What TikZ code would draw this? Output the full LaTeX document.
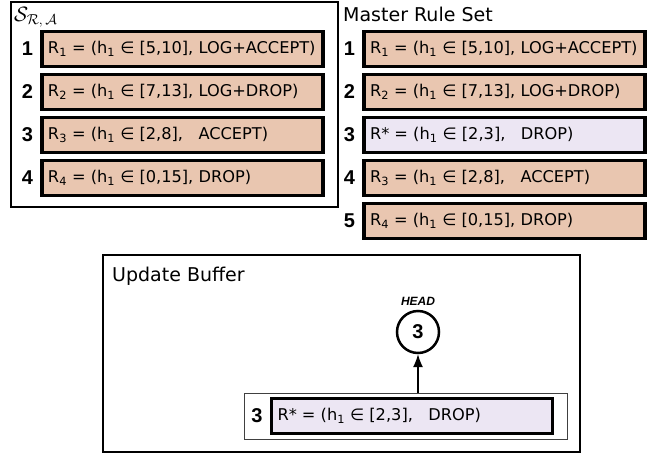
\documentclass[tikz,border=0pt]{standalone}
\usepackage{fontspec}
\setmainfont{DejaVu Sans}
\newfontfamily\numfont{Liberation Sans}
\usepackage{tikz}
\usetikzlibrary{
  arrows.meta,
  positioning,
}
\definecolor{ruleTan}{HTML}{E9C6B0}
\definecolor{ruleNew}{HTML}{ECE6F3}
\tikzset{
  rulebox/.style={
    rectangle, draw=black, line width=3.5pt, inner xsep=6pt, inner ysep=0pt,
    minimum width=281pt, minimum height=35pt,
    font=\fontsize{16.2}{19}\selectfont,
  },
  rulenum/.style={
    inner sep=0pt, font=\numfont\bfseries\fontsize{20}{22}\selectfont,
  },
  setframe/.style={draw=black, line width=2.5pt},
  slotbox/.style={
    rectangle, draw=black!75, line width=1pt, inner sep=0pt,
  },
  title/.style={inner sep=0pt, font=\fontsize{19}{22}\selectfont},
  arrowHead/.style={
    -{Latex[length=4.5mm,width=3.5mm]}, line width=1.2pt, draw=black,
  },
}
\newcommand{\sub}[1]{\textsubscript{#1}}
\newcommand{\ruletext}[1]{\makebox[269pt][l]{#1}}

\begin{document}
\begin{tikzpicture}[x=1pt, y=-1pt]
\useasboundingbox (0,0) rectangle (657,456);

% Rule set S_{R,A}
\draw[setframe] (11,2) rectangle (338,207);
\node[inner sep=0pt, anchor=north west, font=\fontsize{21}{23}\selectfont] (sra) at (14,7)
  {$\mathcal{S}_{\mathcal{R},\,\mathcal{A}}$};
\node[rulebox, fill=ruleTan] (l1) at (182.5,49)  {\ruletext{R\sub{1} = (h\sub{1} ∈ [5,10], LOG+ACCEPT)}};
\node[rulebox, fill=ruleTan] (l2) at (182.5,92)  {\ruletext{R\sub{2} = (h\sub{1} ∈ [7,13], LOG+DROP)}};
\node[rulebox, fill=ruleTan] (l3) at (182.5,135) {\ruletext{R\sub{3} = (h\sub{1} ∈ [2,8],\ \ \ ACCEPT)}};
\node[rulebox, fill=ruleTan] (l4) at (182.5,178) {\ruletext{R\sub{4} = (h\sub{1} ∈ [0,15], DROP)}};
\foreach \i in {1,...,4}
  \node[rulenum, left=7pt of l\i] (ln\i) {\i};

% Master rule set
\node[title, anchor=base west] (mrs) at (343,21) {Master Rule Set};
\node[rulebox, fill=ruleTan] (m1) at (504.5,49)  {\ruletext{R\sub{1} = (h\sub{1} ∈ [5,10], LOG+ACCEPT)}};
\node[rulebox, fill=ruleTan] (m2) at (504.5,92)  {\ruletext{R\sub{2} = (h\sub{1} ∈ [7,13], LOG+DROP)}};
\node[rulebox, fill=ruleNew] (m3) at (504.5,135) {\ruletext{R* = (h\sub{1} ∈ [2,3],\ \ \ DROP)}};
\node[rulebox, fill=ruleTan] (m4) at (504.5,178) {\ruletext{R\sub{3} = (h\sub{1} ∈ [2,8],\ \ \ ACCEPT)}};
\node[rulebox, fill=ruleTan] (m5) at (504.5,221) {\ruletext{R\sub{4} = (h\sub{1} ∈ [0,15], DROP)}};
\foreach \i in {1,...,5}
  \node[rulenum, left=7pt of m\i] (mn\i) {\i};

% Update buffer
\draw[setframe] (103,255) rectangle (580,452);
\node[title, anchor=base west] (ubuf) at (112,281) {Update Buffer};
\node[slotbox, minimum width=323pt, minimum height=46pt] (slot) at (405.5,416) {};
\node[rulebox, fill=ruleNew] (b3) at (412,416) {\ruletext{R* = (h\sub{1} ∈ [2,3],\ \ \ DROP)}};
\node[rulenum, left=7pt of b3] (bn3) {3};
\node[circle, draw=black, line width=2.5pt, minimum size=42pt, inner sep=0pt,
  font=\numfont\bfseries\fontsize{20}{22}\selectfont] (head) at (418,332) {3};
\node[above=4pt of head, inner sep=0pt, font=\numfont\bfseries\itshape\fontsize{12}{14}\selectfont] (headlab) {HEAD};
\draw[arrowHead] (slot.north -| head.south) -- (head.south);

\end{tikzpicture}
\end{document}
